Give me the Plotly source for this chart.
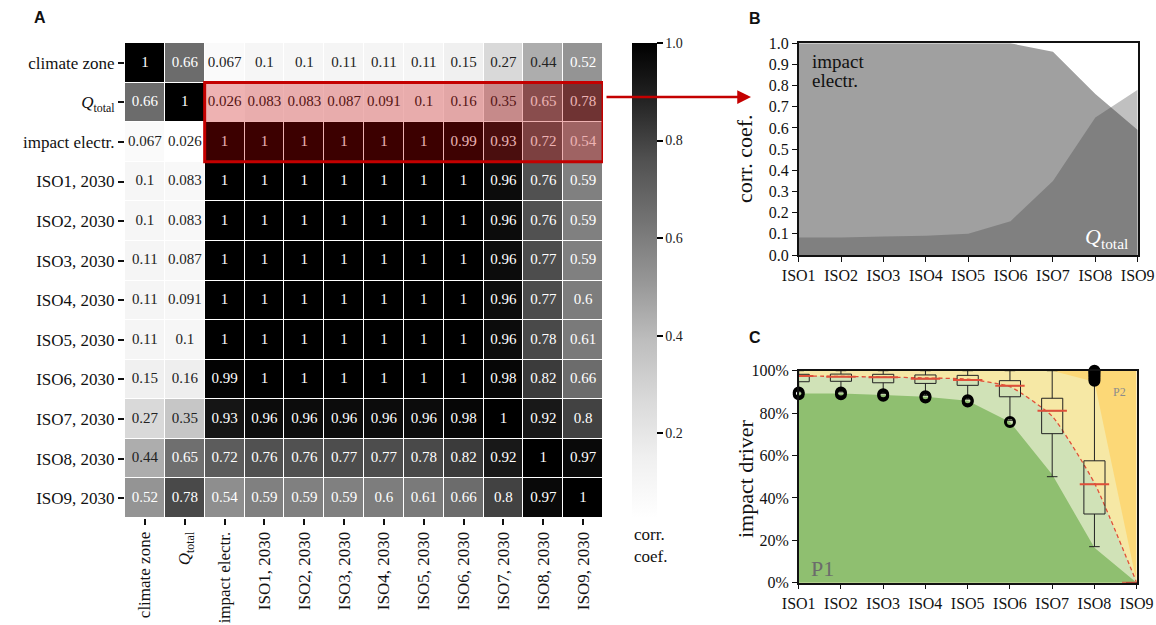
import plotly.graph_objects as go

W, H = 1156, 625
def px(x):
    return x / W
def py(y):
    return 1 - y / H

SERIF = "Liberation Serif"
SANS = "Liberation Sans"

# ---------------- Panel A data ----------------
var_labels = ["climate zone", "<i>Q</i><sub>total</sub>", "impact electr.",
              "ISO1, 2030", "ISO2, 2030", "ISO3, 2030", "ISO4, 2030", "ISO5, 2030",
              "ISO6, 2030", "ISO7, 2030", "ISO8, 2030", "ISO9, 2030"]
row_climate = [1, 0.66, 0.067, 0.1, 0.1, 0.11, 0.11, 0.11, 0.15, 0.27, 0.44, 0.52]
row_qtotal = [0.66, 1, 0.026, 0.083, 0.083, 0.087, 0.091, 0.1, 0.16, 0.35, 0.65, 0.78]
row_impact = [0.067, 0.026, 1, 1, 1, 1, 1, 1, 0.99, 0.93, 0.72, 0.54]
row_iso1 = [0.1, 0.083, 1, 1, 1, 1, 1, 1, 1, 0.96, 0.76, 0.59]
row_iso2 = [0.1, 0.083, 1, 1, 1, 1, 1, 1, 1, 0.96, 0.76, 0.59]
row_iso3 = [0.11, 0.087, 1, 1, 1, 1, 1, 1, 1, 0.96, 0.77, 0.59]
row_iso4 = [0.11, 0.091, 1, 1, 1, 1, 1, 1, 1, 0.96, 0.77, 0.6]
row_iso5 = [0.11, 0.1, 1, 1, 1, 1, 1, 1, 1, 0.96, 0.78, 0.61]
row_iso6 = [0.15, 0.16, 0.99, 1, 1, 1, 1, 1, 1, 0.98, 0.82, 0.66]
row_iso7 = [0.27, 0.35, 0.93, 0.96, 0.96, 0.96, 0.96, 0.96, 0.98, 1, 0.92, 0.8]
row_iso8 = [0.44, 0.65, 0.72, 0.76, 0.76, 0.77, 0.77, 0.78, 0.82, 0.92, 1, 0.97]
row_iso9 = [0.52, 0.78, 0.54, 0.59, 0.59, 0.59, 0.6, 0.61, 0.66, 0.8, 0.97, 1]
corr = [row_climate, row_qtotal, row_impact, row_iso1, row_iso2, row_iso3,
        row_iso4, row_iso5, row_iso6, row_iso7, row_iso8, row_iso9]
cbar_ticks = [0.2, 0.4, 0.6, 0.8, 1.0]

# ---------------- Panel B data ----------------
iso_labels = ["ISO1", "ISO2", "ISO3", "ISO4", "ISO5", "ISO6", "ISO7", "ISO8", "ISO9"]
impact_corr = [1, 1, 1, 1, 1, 1, 0.96, 0.76, 0.59]
qtotal_corr = [0.083, 0.083, 0.087, 0.091, 0.1, 0.16, 0.35, 0.65, 0.78]
corr_ticks = [0.0, 0.1, 0.2, 0.3, 0.4, 0.5, 0.6, 0.7, 0.8, 0.9, 1.0]

# ---------------- Panel C data (percent) ----------------
share_total = [100, 100, 100, 100, 100, 100, 100, 100, 100]
share_max = [100, 100, 100, 100, 100, 100, 100, 94.8, 0]
share_mean = [97.5, 97.3, 97.0, 96.6, 96.0, 92.5, 78.5, 47.0, 0]
share_min = [89.3, 89.3, 88.5, 87.7, 85.8, 75.8, 51.0, 16.5, 0]
box_q1 = [94.8, 95.0, 94.3, 94.0, 93.1, 87.7, 70.3, 32.4, 0]
box_med = [97.5, 97.2, 96.9, 96.2, 95.6, 92.9, 81.1, 46.4, 0]
box_q3 = [98.3, 98.4, 98.3, 98.0, 97.8, 95.3, 87.0, 57.5, 0]
box_lo = [90.0, 90.0, 89.2, 88.4, 86.6, 76.6, 50.0, 17.0, 0]
box_hi = [100, 100, 100, 100, 100, 100, 100, 94.8, 0]
outlier_iso = [0, 0, 1, 1, 2, 2, 3, 3, 4, 4, 5, 7, 7, 7, 7, 7, 7, 7]
outlier_val = [89.7, 88.9, 89.7, 88.9, 88.9, 88.2, 88.0, 87.4, 86.1, 85.5, 75.8,
               95.3, 96.2, 97.1, 98.0, 98.8, 99.5, 100]
share_ticks = [0, 20, 40, 60, 80, 100]

# ---------------- Figure ----------------
greys = [[0.0, "rgb(255,255,255)"], [0.125, "rgb(240,240,240)"], [0.25, "rgb(217,217,217)"],
         [0.375, "rgb(189,189,189)"], [0.5, "rgb(150,150,150)"], [0.625, "rgb(115,115,115)"],
         [0.75, "rgb(82,82,82)"], [0.875, "rgb(37,37,37)"], [1.0, "rgb(0,0,0)"]]

n = len(var_labels)
idx = list(range(n))
zmin = min(min(r) for r in corr)

fig = go.Figure()
fig.add_trace(go.Heatmap(
    z=corr, x=idx, y=idx, colorscale=greys, zmin=zmin, zmax=1,
    xgap=1, ygap=1, hoverinfo="skip",
    colorbar=dict(x=px(632), xanchor="left", xpad=0, ypad=0,
                  y=py((43 + 518) / 2), yanchor="middle",
                  len=(518 - 43) / H, lenmode="fraction",
                  thickness=25, thicknessmode="pixels", outlinewidth=0,
                  tickvals=cbar_ticks, ticktext=["%.1f" % t for t in cbar_ticks],
                  ticks="outside", ticklen=6, tickwidth=1.5, tickcolor="black",
                  tickfont=dict(family=SERIF, size=14, color="#222")),
    xaxis="x", yaxis="y"))

tx, ty, tt, tc = [], [], [], []
for i, row in enumerate(corr):
    for j, v in enumerate(row):
        tx.append(j)
        ty.append(i)
        tt.append(format(v, ".2g"))
        tc.append("white" if v >= 0.5 else "#222")
fig.add_trace(go.Scatter(x=tx, y=ty, text=tt, mode="text",
                         textfont=dict(family=SERIF, size=15, color=tc),
                         hoverinfo="skip", showlegend=False, xaxis="x", yaxis="y"))

# Panel B
xi = list(range(len(iso_labels)))
fig.add_trace(go.Scatter(x=xi, y=impact_corr, mode="none", fill="tozeroy",
                         fillcolor="rgb(160,160,160)", showlegend=False,
                         xaxis="x2", yaxis="y2"))
fig.add_trace(go.Scatter(x=xi, y=qtotal_corr, mode="none", fill="tozeroy",
                         fillcolor="rgba(64,64,64,0.33)", showlegend=False,
                         xaxis="x2", yaxis="y2"))

# Panel C: areas on base subplot
fig.add_trace(go.Scatter(x=xi, y=share_total, mode="none", fill="tozeroy",
                         fillcolor="#fcd877", showlegend=False, xaxis="x3", yaxis="y3"))
fig.add_trace(go.Scatter(x=xi, y=share_max, mode="none", fill="tozeroy",
                         fillcolor="#f6e8a5", showlegend=False, xaxis="x3", yaxis="y3"))
fig.add_trace(go.Scatter(x=xi, y=share_mean, mode="none", fill="tozeroy",
                         line=dict(shape="spline", smoothing=0.5),
                         fillcolor="#d0e2b7", showlegend=False, xaxis="x3", yaxis="y3"))
fig.add_trace(go.Scatter(x=xi, y=share_min, mode="none", fill="tozeroy",
                         fillcolor="#8fbf70", showlegend=False, xaxis="x3", yaxis="y3"))
fig.add_trace(go.Scatter(x=xi, y=share_mean, mode="lines",
                         line=dict(color="#e0503a", width=1.3, dash="4px,3px",
                                   shape="spline", smoothing=0.5),
                         showlegend=False, xaxis="x3", yaxis="y3"))
# Panel C: boxes on an overlaying subplot (drawn above the areas)
fig.add_trace(go.Box(x=xi, q1=box_q1, median=box_med, q3=box_q3, orientation="v",
                     lowerfence=box_lo, upperfence=box_hi, width=0.5, whiskerwidth=0.5,
                     line=dict(color="#222", width=1), fillcolor="rgba(0,0,0,0)",
                     boxpoints=False, showlegend=False, hoverinfo="skip",
                     xaxis="x4", yaxis="y4"))
fig.add_trace(go.Scatter(x=xi, y=box_med, mode="markers",
                         marker=dict(symbol="line-ew", size=21,
                                     line=dict(color="#e0503a", width=2)),
                         showlegend=False, xaxis="x4", yaxis="y4"))
fig.add_trace(go.Scatter(x=outlier_iso, y=outlier_val, mode="markers", cliponaxis=False,
                         marker=dict(symbol="circle-open", size=9, color="black",
                                     line=dict(color="black", width=3)),
                         showlegend=False, xaxis="x4", yaxis="y4"))

tickfont = dict(family=SERIF, size=16, color="#111")
common_ax = dict(showgrid=False, zeroline=False, showline=True, linecolor="#111",
                 linewidth=1.5, mirror=True, ticks="outside", ticklen=5, tickwidth=1.2,
                 tickcolor="#111", tickfont=tickfont, automargin=False)

fig.update_layout(
    width=W, height=H, margin=dict(l=0, r=0, t=0, b=0, autoexpand=False),
    paper_bgcolor="white", plot_bgcolor="rgba(0,0,0,0)", showlegend=False,
    xaxis=dict(domain=[px(125), px(603)], anchor="y", range=[-0.5, n - 0.5],
               tickvals=idx, ticktext=var_labels, tickangle=-90, showgrid=False,
               zeroline=False, showline=False, ticks="outside", ticklen=6, tickwidth=1.5,
               tickcolor="#111", automargin=False,
               tickfont=dict(family=SERIF, size=17, color="#111")),
    yaxis=dict(domain=[py(518), py(43)], anchor="x", range=[n - 0.5, -0.5],
               tickvals=idx, ticktext=var_labels, showgrid=False, zeroline=False,
               showline=False, ticks="outside", ticklen=6, tickwidth=1.5, tickcolor="#111",
               automargin=False, tickfont=dict(family=SERIF, size=17, color="#111")),
    xaxis2=dict(domain=[px(798.7), px(1137.7)], anchor="y2", range=[0, 8],
                tickvals=xi, ticktext=iso_labels, **common_ax),
    yaxis2=dict(domain=[py(255), py(43.3)], anchor="x2", range=[0, 1],
                tickvals=corr_ticks, ticktext=["%.1f" % t for t in corr_ticks], **common_ax),
    xaxis3=dict(domain=[px(798.7), px(1136.7)], anchor="y3", range=[0, 8],
                tickvals=xi, ticktext=iso_labels, **common_ax),
    yaxis3=dict(domain=[py(582.7), py(370.7)], anchor="x3", range=[0, 100],
                tickvals=share_ticks, ticktext=["%d%%" % t for t in share_ticks], **common_ax),
    xaxis4=dict(overlaying="x3", anchor="y4", range=[0, 8], visible=False),
    yaxis4=dict(overlaying="y3", anchor="x4", range=[0, 100], visible=False),
)

# highlight box on rows Q_total / impact electr., columns impact electr. .. ISO9
fig.add_shape(type="rect", xref="x", yref="y", x0=1.5, x1=n - 0.5, y0=0.5, y1=2.5,
              fillcolor="rgba(200,0,0,0.3)", line=dict(color="#c40000", width=3),
              layer="above")

def note(x, y, text, size, color="#111", family=SERIF, xanchor="center", **kw):
    return dict(x=px(x), y=py(y), xref="paper", yref="paper", showarrow=False,
                xanchor=xanchor, yanchor="middle", text=text,
                font=dict(family=family, size=size, color=color), **kw)

ann = []
ann.append(dict(x=px(751), y=py(97), xref="paper", yref="paper", ax=-146, ay=0,
                axref="pixel", ayref="pixel", showarrow=True, arrowhead=2,
                arrowsize=1.1, arrowwidth=2.5, arrowcolor="#c40000", text=""))
for lab, x0, y0 in [("A", 40, 17), ("B", 755, 18), ("C", 755, 337)]:
    ann.append(note(x0, y0, "<b>%s</b>" % lab, 16, family=SANS))
ann.append(dict(x=px(632), y=py(523), xref="paper", yref="paper", showarrow=False,
                xanchor="left", yanchor="top", align="left", text="corr.<br>coef.",
                font=dict(family=SERIF, size=17, color="#111")))
ann.append(note(745, 159, "corr. coef.", 22, textangle=-90))
ann.append(note(745, 479, "impact driver", 22, textangle=-90))
ann.append(note(810, 61, "impact", 19, xanchor="left"))
ann.append(note(810, 80, "electr.", 19, xanchor="left"))
ann.append(note(1130, 238, "<i>Q</i><sub>total</sub>", 22, color="white", xanchor="right"))
ann.append(note(822, 568, "P1", 22, color="#6b6b6b"))
ann.append(note(1119, 392, "P2", 12, color="#8c8c8c"))
fig.update_layout(annotations=ann)

fig.write_html("out.html", config={"displayModeBar": False},
               post_script="document.body.style.margin='0';"
                           "document.documentElement.style.overflow='hidden';")
